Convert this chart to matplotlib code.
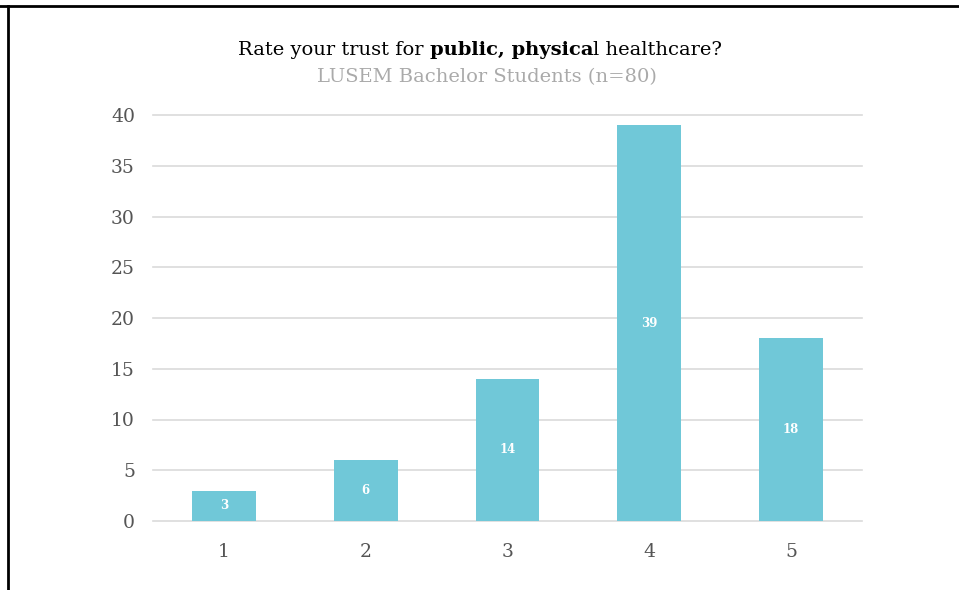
import matplotlib.pyplot as plt
from matplotlib.lines import Line2D

ratings = ["1", "2", "3", "4", "5"]
counts = [3, 6, 14, 39, 18]
y_ticks = [0, 5, 10, 15, 20, 25, 30, 35, 40]

title_parts = [("Rate your trust for ", "normal"), ("public, physica", "bold"), ("l healthcare?", "normal")]
subtitle = "LUSEM Bachelor Students (n=80)"

bar_color = "#70c8d8"
grid_color = "#dadada"
tick_color = "#555555"

plt.rcParams["font.family"] = "DejaVu Serif"

fig = plt.figure(figsize=(9.59, 5.9), dpi=100)
ax = fig.add_axes([153 / 959, 1 - 521 / 590, 709 / 959, 406 / 590])

x = list(range(1, len(counts) + 1))
bars = ax.bar(x, counts, width=0.45, color=bar_color, zorder=2)
for b, v in zip(bars, counts):
    ax.text(b.get_x() + b.get_width() / 2, v / 2, str(v), ha="center", va="center",
            color="white", fontsize=8.5, fontweight="bold", zorder=3)

ax.set_xlim(0.5, 5.5)
ax.set_ylim(0, 40)
ax.set_yticks(y_ticks)
ax.set_xticks(x)
ax.set_xticklabels(ratings)
ax.grid(axis="y", color=grid_color, linewidth=1.2, zorder=0)
for gl in ax.get_ygridlines():
    gl.set_clip_on(False)
ax.tick_params(length=0, colors=tick_color, labelsize=13.5)
ax.tick_params(axis="y", pad=13)
ax.tick_params(axis="x", pad=16)
for s in ax.spines.values():
    s.set_visible(False)

# title with a bold middle part: measure each piece, then lay them out centred
fig.canvas.draw()
renderer = fig.canvas.get_renderer()
space_w = None
pieces = []
for txt, weight in title_parts:
    t = fig.text(0, 1 - 50 / 590, txt.strip(), fontsize=14, fontweight=weight,
                 color="black", va="center", ha="left")
    w = t.get_window_extent(renderer).width
    pieces.append((t, w, txt))
probe = fig.text(0, 0, "a a", fontsize=14)
probe2 = fig.text(0, 0, "aa", fontsize=14)
space_w = probe.get_window_extent(renderer).width - probe2.get_window_extent(renderer).width
probe.remove()
probe2.remove()

total = 0
for t, w, txt in pieces:
    total += w + (space_w if txt.endswith(" ") else 0)
cursor = 480 - total / 2
for t, w, txt in pieces:
    t.set_x(cursor / 959)
    cursor += w + (space_w if txt.endswith(" ") else 0)

fig.text(487 / 959, 1 - 77 / 590, subtitle, ha="center", va="center", fontsize=14, color="#aaaaaa")

# frame edges along the top and left
fig.add_artist(Line2D([0, 1], [1 - 6 / 590] * 2, color="black", linewidth=2))
fig.add_artist(Line2D([8 / 959] * 2, [0, 1 - 6 / 590], color="black", linewidth=2))

fig.savefig("out.png", dpi=100)
